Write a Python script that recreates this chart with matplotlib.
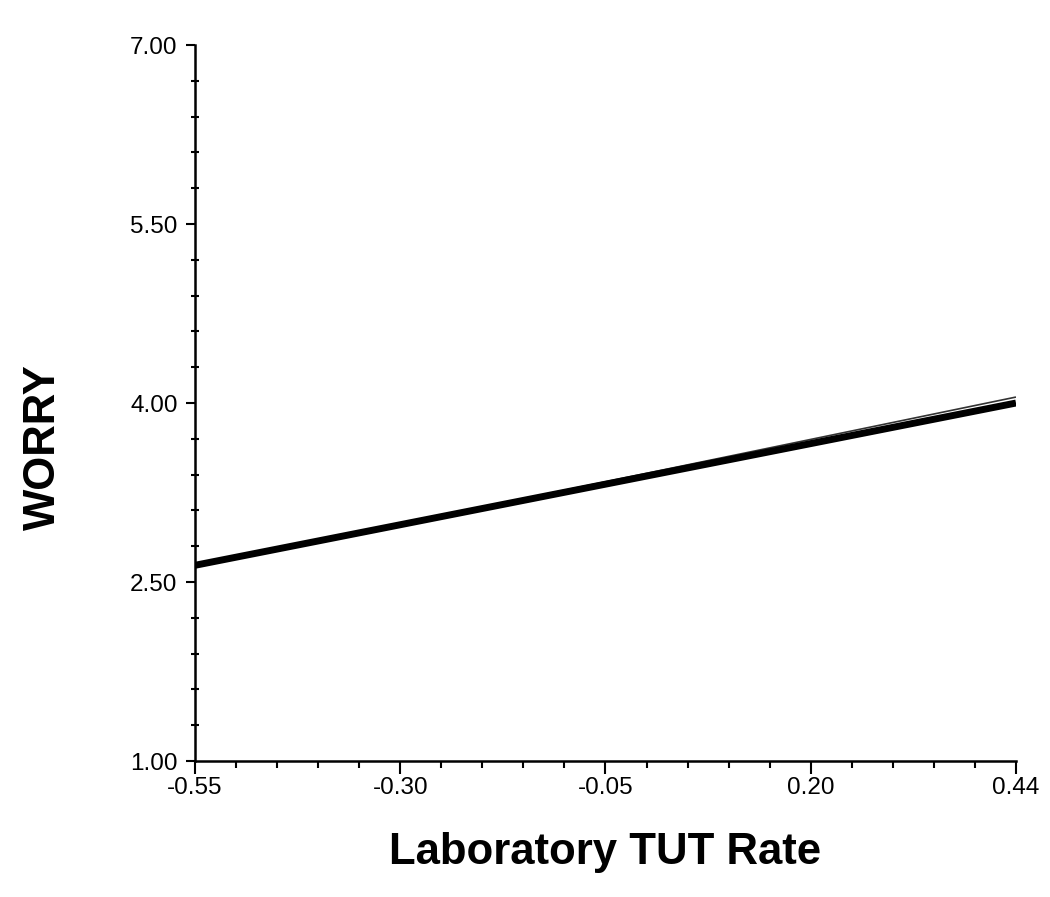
import numpy as np
import matplotlib.pyplot as plt
from matplotlib.ticker import FixedLocator

plt.rcParams['font.family'] = ['Liberation Sans', 'DejaVu Sans']

# data
tut_rate = [-0.55, 0.45]
worry_thick = [2.64, 4.00]
worry_thin = [2.63, 4.05]

x_major = [-0.55, -0.30, -0.05, 0.20, 0.45]
x_labels = ['-0.55', '-0.30', '-0.05', '0.20', '0.44']
y_major = [1.0, 2.5, 4.0, 5.5, 7.0]
y_labels = ['1.00', '2.50', '4.00', '5.50', '7.00']

fig = plt.figure(figsize=(10.5, 8.97), dpi=100)
ax = fig.add_axes([0.1857, 0.1516, 0.7819, 0.7982])

ax.plot(tut_rate, worry_thin, color='#333333', linewidth=1.2, solid_capstyle='butt')
ax.plot(tut_rate, worry_thick, color='black', linewidth=5, solid_capstyle='butt')

ax.set_xlim(-0.55, 0.45)
ax.set_ylim(1.0, 7.0)

ax.xaxis.set_major_locator(FixedLocator(x_major))
ax.set_xticklabels(x_labels)
ax.xaxis.set_minor_locator(FixedLocator(np.arange(-0.55, 0.451, 0.05)))
ax.yaxis.set_major_locator(FixedLocator(y_major))
ax.set_yticklabels(y_labels)
ax.yaxis.set_minor_locator(FixedLocator(np.arange(1.0, 7.01, 0.3)))

for s in ['top', 'right']:
    ax.spines[s].set_visible(False)
for s in ['left', 'bottom']:
    ax.spines[s].set_linewidth(1.8)

ax.tick_params(axis='x', which='major', direction='out', length=9, width=1.5, labelsize=17.5, pad=2.5)
ax.tick_params(axis='x', which='minor', direction='out', length=5, width=1.5)
ax.tick_params(axis='y', which='major', direction='out', length=6.5, width=1.5, labelsize=17.5, pad=6)
ax.tick_params(axis='y', which='minor', direction='inout', length=6, width=1.5)

ax.set_xlabel('Laboratory TUT Rate', fontsize=31.5, fontweight='bold', labelpad=24)
ax.set_ylabel('WORRY', fontsize=31.5, fontweight='bold', labelpad=48)
ax.yaxis.label.set_y(0.4385)

fig.savefig('out.png', dpi=100)
